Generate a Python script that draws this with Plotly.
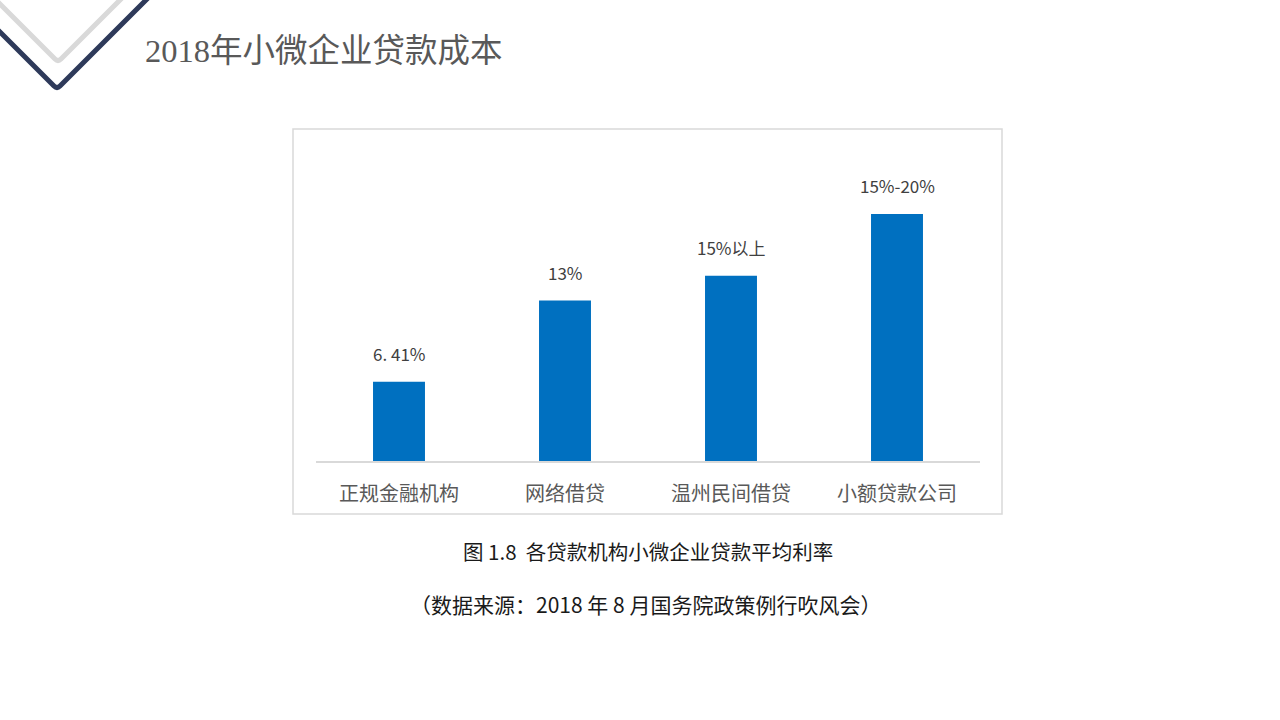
import plotly.graph_objects as go

# ---- data ----
categories = ["正规金融机构", "网络借贷", "温州民间借贷", "小额贷款公司"]
values = [6.41, 13, 15, 20]
value_labels = ["6. 41%", "13%", "15%以上", "15%-20%"]

title_text = "2018年小微企业贷款成本"
caption_1 = "图 1.8  各贷款机构小微企业贷款平均利率"
caption_2 = "（数据来源：2018 年 8 月国务院政策例行吹风会）"

W, H = 1280, 720
L, R, T, B = 316, 300, 140, 259
PW, PH = W - L - R, H - T - B


def px(x):
    return (x - L) / PW


def py(y):
    return (H - B - y) / PH


CJK = "Noto Sans CJK SC, Noto Sans, sans-serif"
SERIF = "Liberation Serif, Noto Sans CJK SC, serif"

fig = go.Figure()
fig.add_trace(go.Bar(
    x=categories, y=values,
    marker=dict(color="#0070C0", line=dict(width=0)),
    hoverinfo="skip",
))

# value labels above bars
for c, v, t in zip(categories, values, value_labels):
    fig.add_annotation(x=c, y=v, text=t, showarrow=False, yanchor="bottom",
                       yshift=14, font=dict(family=CJK, size=17, color="#404040"))

shapes = [
    # chart frame
    dict(type="rect", xref="paper", yref="paper", x0=px(293), x1=px(1002),
         y0=py(514), y1=py(129), line=dict(color="#D9D9D9", width=1.5),
         fillcolor="white", layer="below"),
    # corner decoration (gray)
    dict(type="path", xref="paper", yref="paper",
         path=f"M {px(-2)} {py(2)} L {px(55)} {py(59)} Q {px(58)} {py(62)} {px(61)} {py(59)} L {px(124)} {py(-4)}",
         line=dict(color="#D9D9D9", width=5)),
    # corner decoration (dark)
    dict(type="path", xref="paper", yref="paper",
         path=f"M {px(-2)} {py(30)} L {px(54)} {py(86)} Q {px(57)} {py(89)} {px(60)} {py(86)} L {px(150)} {py(-4)}",
         line=dict(color="#2E3A5A", width=5)),
]

annotations_extra = [
    dict(text=title_text, x=px(143), y=py(51), xref="paper", yref="paper",
         xanchor="left", yanchor="middle", showarrow=False,
         font=dict(family=SERIF, size=32.5, color="#595959")),
    dict(text=caption_1, x=px(648), y=py(551), xref="paper", yref="paper",
         xanchor="center", yanchor="middle", showarrow=False,
         font=dict(family=CJK, size=20.5, color="#1A1A1A")),
    dict(text=caption_2, x=px(645), y=py(604), xref="paper", yref="paper",
         xanchor="center", yanchor="middle", showarrow=False,
         font=dict(family=CJK, size=21, color="#1A1A1A")),
]
for a in annotations_extra:
    fig.add_annotation(**a)

fig.update_layout(
    width=W, height=H,
    margin=dict(l=L, r=R, t=T, b=B, pad=0),
    paper_bgcolor="white", plot_bgcolor="rgba(0,0,0,0)",
    showlegend=False,
    bargap=0.687,
    shapes=shapes,
    xaxis=dict(showline=True, linecolor="#D9D9D9", linewidth=1.5,
               ticks="", showgrid=False, zeroline=False,
               tickfont=dict(family=CJK, size=20, color="#595959"),
               ticklabelstandoff=14, fixedrange=True),
    yaxis=dict(range=[0, 26], visible=False, showgrid=False, zeroline=False,
               fixedrange=True),
)

fig.write_html("out.html", config={"displayModeBar": False},
               post_script="document.body.style.margin='0';document.body.style.overflow='hidden';")
